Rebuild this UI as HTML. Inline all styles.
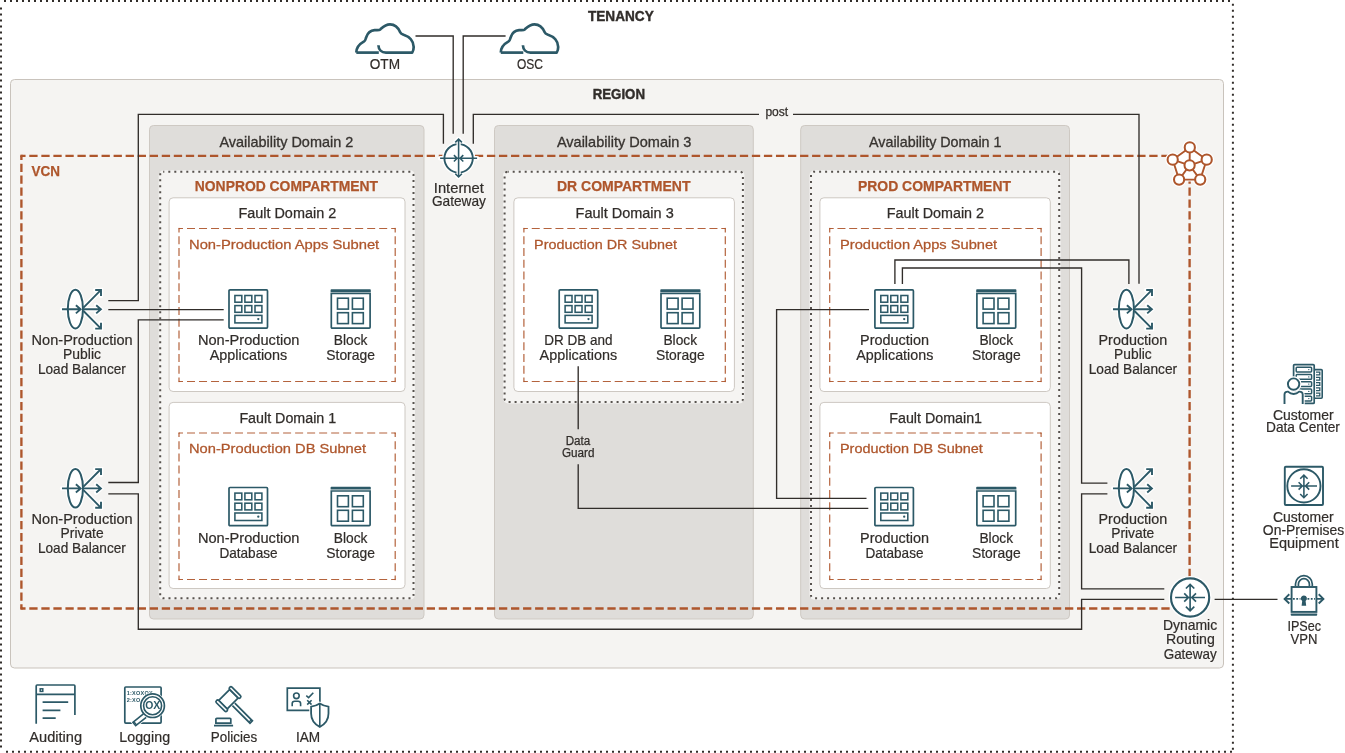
<!DOCTYPE html>
<html><head><meta charset="utf-8"><title>OCI Architecture</title>
<style>
html,body{margin:0;padding:0;background:#fff}
svg{display:block;will-change:transform}
text{font-family:"Liberation Sans",sans-serif;fill:#312d2a;white-space:pre}
.l{font-size:14.3px;stroke:#312d2a;stroke-width:.2px}
.s{font-size:12px;stroke:#312d2a;stroke-width:.25px}
.m{font-size:12.6px}
.h{font-size:14.6px;font-weight:bold;stroke:#ae562c;stroke-width:.25px}
.hb{font-size:14px;font-weight:bold;stroke:#312d2a;stroke-width:.4px}

.ad{font-size:14.6px;stroke:#312d2a;stroke-width:.3px;fill:#3a3632}
.fd{font-size:14px;stroke:#312d2a;stroke-width:.25px}
.o{fill:#ae562c}
.sn{font-size:13.5px;fill:#ae562c;stroke:#ae562c;stroke-width:.28px}
</style></head>
<body>
<svg width="1345" height="753" viewBox="0 0 1345 753">
<path d="M4 1H1232 M1232.9 3.8V750.5 M1 7.4V750.5 M6 751.8H1232" fill="none" stroke="#312d2a" stroke-width="2" stroke-dasharray="2 4"/>
<rect x="10.5" y="79.5" width="1213" height="588.5" rx="4" fill="#f5f4f2" stroke="#c9c3bc" stroke-width="1"/>
<rect x="149.5" y="125.5" width="274.5" height="493.5" rx="4" fill="#dfddda" stroke="#cec9c3" stroke-width="1"/>
<rect x="494.5" y="125.5" width="258.79999999999995" height="493.5" rx="4" fill="#dfddda" stroke="#cec9c3" stroke-width="1"/>
<rect x="800.7" y="125.5" width="268.79999999999995" height="493.5" rx="4" fill="#dfddda" stroke="#cec9c3" stroke-width="1"/>
<rect x="158.7" y="170.2" width="256.3" height="429.59999999999997" rx="5" fill="#f5f4f2"/>
<rect x="160.2" y="171.7" width="253.3" height="426.59999999999997" rx="3" fill="none" stroke="#57524e" stroke-width="2" stroke-dasharray="2 4" stroke-dashoffset="0.9"/>
<rect x="503.1" y="170.2" width="241.29999999999995" height="233.3" rx="5" fill="#f5f4f2"/>
<rect x="504.6" y="171.7" width="238.29999999999995" height="230.3" rx="3" fill="none" stroke="#57524e" stroke-width="2" stroke-dasharray="2 4" stroke-dashoffset="0.9"/>
<rect x="809.5" y="170.2" width="251.20000000000005" height="429.59999999999997" rx="5" fill="#f5f4f2"/>
<rect x="811" y="171.7" width="248.20000000000005" height="426.59999999999997" rx="3" fill="none" stroke="#57524e" stroke-width="2" stroke-dasharray="2 4" stroke-dashoffset="0.9"/>
<rect x="169.1" y="197.8" width="235.9" height="193.7" rx="4" fill="#fff" stroke="#cdc8c2" stroke-width="1"/>
<rect x="169.1" y="402.4" width="235.9" height="186.10000000000002" rx="4" fill="#fff" stroke="#cdc8c2" stroke-width="1"/>
<rect x="513.9" y="197.8" width="220.5" height="193.7" rx="4" fill="#fff" stroke="#cdc8c2" stroke-width="1"/>
<rect x="819.9" y="197.8" width="230.39999999999998" height="193.7" rx="4" fill="#fff" stroke="#cdc8c2" stroke-width="1"/>
<rect x="819.9" y="402.4" width="230.39999999999998" height="186.10000000000002" rx="4" fill="#fff" stroke="#cdc8c2" stroke-width="1"/>
<path d="M179 228.5L395.2 228.5" fill="none" stroke="#ae562c" stroke-width="1.2" stroke-opacity=".92" stroke-dasharray="8 4.011" stroke-dashoffset="4.0" stroke-linecap="butt"/>
<path d="M395.2 228.5L395.2 381.5" fill="none" stroke="#ae562c" stroke-width="1.2" stroke-opacity=".92" stroke-dasharray="8 3.769" stroke-dashoffset="4.0" stroke-linecap="butt"/>
<path d="M179 381.5L395.2 381.5" fill="none" stroke="#ae562c" stroke-width="1.2" stroke-opacity=".92" stroke-dasharray="8 4.011" stroke-dashoffset="4.0" stroke-linecap="butt"/>
<path d="M179 228.5L179 381.5" fill="none" stroke="#ae562c" stroke-width="1.2" stroke-opacity=".92" stroke-dasharray="8 3.769" stroke-dashoffset="4.0" stroke-linecap="butt"/>
<rect x="178.4" y="227.9" width="1.2" height="1.2" fill="#ae562c" fill-opacity=".92"/>
<rect x="394.59999999999997" y="227.9" width="1.2" height="1.2" fill="#ae562c" fill-opacity=".92"/>
<rect x="178.4" y="380.9" width="1.2" height="1.2" fill="#ae562c" fill-opacity=".92"/>
<rect x="394.59999999999997" y="380.9" width="1.2" height="1.2" fill="#ae562c" fill-opacity=".92"/>
<path d="M179 433L395.2 433" fill="none" stroke="#ae562c" stroke-width="1.2" stroke-opacity=".92" stroke-dasharray="8 4.011" stroke-dashoffset="4.0" stroke-linecap="butt"/>
<path d="M395.2 433L395.2 579.5" fill="none" stroke="#ae562c" stroke-width="1.2" stroke-opacity=".92" stroke-dasharray="8 4.208" stroke-dashoffset="4.0" stroke-linecap="butt"/>
<path d="M179 579.5L395.2 579.5" fill="none" stroke="#ae562c" stroke-width="1.2" stroke-opacity=".92" stroke-dasharray="8 4.011" stroke-dashoffset="4.0" stroke-linecap="butt"/>
<path d="M179 433L179 579.5" fill="none" stroke="#ae562c" stroke-width="1.2" stroke-opacity=".92" stroke-dasharray="8 4.208" stroke-dashoffset="4.0" stroke-linecap="butt"/>
<rect x="178.4" y="432.4" width="1.2" height="1.2" fill="#ae562c" fill-opacity=".92"/>
<rect x="394.59999999999997" y="432.4" width="1.2" height="1.2" fill="#ae562c" fill-opacity=".92"/>
<rect x="178.4" y="578.9" width="1.2" height="1.2" fill="#ae562c" fill-opacity=".92"/>
<rect x="394.59999999999997" y="578.9" width="1.2" height="1.2" fill="#ae562c" fill-opacity=".92"/>
<path d="M523.9 228.5L725.3 228.5" fill="none" stroke="#ae562c" stroke-width="1.2" stroke-opacity=".92" stroke-dasharray="8 3.847" stroke-dashoffset="4.0" stroke-linecap="butt"/>
<path d="M725.3 228.5L725.3 381.5" fill="none" stroke="#ae562c" stroke-width="1.2" stroke-opacity=".92" stroke-dasharray="8 3.769" stroke-dashoffset="4.0" stroke-linecap="butt"/>
<path d="M523.9 381.5L725.3 381.5" fill="none" stroke="#ae562c" stroke-width="1.2" stroke-opacity=".92" stroke-dasharray="8 3.847" stroke-dashoffset="4.0" stroke-linecap="butt"/>
<path d="M523.9 228.5L523.9 381.5" fill="none" stroke="#ae562c" stroke-width="1.2" stroke-opacity=".92" stroke-dasharray="8 3.769" stroke-dashoffset="4.0" stroke-linecap="butt"/>
<rect x="523.3" y="227.9" width="1.2" height="1.2" fill="#ae562c" fill-opacity=".92"/>
<rect x="724.6999999999999" y="227.9" width="1.2" height="1.2" fill="#ae562c" fill-opacity=".92"/>
<rect x="523.3" y="380.9" width="1.2" height="1.2" fill="#ae562c" fill-opacity=".92"/>
<rect x="724.6999999999999" y="380.9" width="1.2" height="1.2" fill="#ae562c" fill-opacity=".92"/>
<path d="M829.7 228.5L1041.1 228.5" fill="none" stroke="#ae562c" stroke-width="1.2" stroke-opacity=".92" stroke-dasharray="8 3.744" stroke-dashoffset="4.0" stroke-linecap="butt"/>
<path d="M1041.1 228.5L1041.1 381.5" fill="none" stroke="#ae562c" stroke-width="1.2" stroke-opacity=".92" stroke-dasharray="8 3.769" stroke-dashoffset="4.0" stroke-linecap="butt"/>
<path d="M829.7 381.5L1041.1 381.5" fill="none" stroke="#ae562c" stroke-width="1.2" stroke-opacity=".92" stroke-dasharray="8 3.744" stroke-dashoffset="4.0" stroke-linecap="butt"/>
<path d="M829.7 228.5L829.7 381.5" fill="none" stroke="#ae562c" stroke-width="1.2" stroke-opacity=".92" stroke-dasharray="8 3.769" stroke-dashoffset="4.0" stroke-linecap="butt"/>
<rect x="829.1" y="227.9" width="1.2" height="1.2" fill="#ae562c" fill-opacity=".92"/>
<rect x="1040.5" y="227.9" width="1.2" height="1.2" fill="#ae562c" fill-opacity=".92"/>
<rect x="829.1" y="380.9" width="1.2" height="1.2" fill="#ae562c" fill-opacity=".92"/>
<rect x="1040.5" y="380.9" width="1.2" height="1.2" fill="#ae562c" fill-opacity=".92"/>
<path d="M829.7 433L1041.1 433" fill="none" stroke="#ae562c" stroke-width="1.2" stroke-opacity=".92" stroke-dasharray="8 3.744" stroke-dashoffset="4.0" stroke-linecap="butt"/>
<path d="M1041.1 433L1041.1 579.5" fill="none" stroke="#ae562c" stroke-width="1.2" stroke-opacity=".92" stroke-dasharray="8 4.208" stroke-dashoffset="4.0" stroke-linecap="butt"/>
<path d="M829.7 579.5L1041.1 579.5" fill="none" stroke="#ae562c" stroke-width="1.2" stroke-opacity=".92" stroke-dasharray="8 3.744" stroke-dashoffset="4.0" stroke-linecap="butt"/>
<path d="M829.7 433L829.7 579.5" fill="none" stroke="#ae562c" stroke-width="1.2" stroke-opacity=".92" stroke-dasharray="8 4.208" stroke-dashoffset="4.0" stroke-linecap="butt"/>
<rect x="829.1" y="432.4" width="1.2" height="1.2" fill="#ae562c" fill-opacity=".92"/>
<rect x="1040.5" y="432.4" width="1.2" height="1.2" fill="#ae562c" fill-opacity=".92"/>
<rect x="829.1" y="578.9" width="1.2" height="1.2" fill="#ae562c" fill-opacity=".92"/>
<rect x="1040.5" y="578.9" width="1.2" height="1.2" fill="#ae562c" fill-opacity=".92"/>
<g id="under">
</g>
<path d="M21.4 155.9L1189.6 155.9" fill="none" stroke="#ae562c" stroke-width="2.35" stroke-dasharray="8.3 3.743" stroke-dashoffset="4.15" stroke-linecap="butt"/>
<path d="M1189.6 155.9L1189.6 608.5" fill="none" stroke="#ae562c" stroke-width="2.35" stroke-dasharray="8.3 3.611" stroke-dashoffset="4.15" stroke-linecap="butt"/>
<path d="M21.4 608.5L1189.6 608.5" fill="none" stroke="#ae562c" stroke-width="2.35" stroke-dasharray="8.3 3.743" stroke-dashoffset="4.15" stroke-linecap="butt"/>
<path d="M21.4 155.9L21.4 608.5" fill="none" stroke="#ae562c" stroke-width="2.35" stroke-dasharray="8.3 3.611" stroke-dashoffset="4.15" stroke-linecap="butt"/>
<rect x="20.224999999999998" y="154.725" width="2.35" height="2.35" fill="#ae562c" />
<rect x="1188.425" y="154.725" width="2.35" height="2.35" fill="#ae562c" />
<rect x="20.224999999999998" y="607.325" width="2.35" height="2.35" fill="#ae562c" />
<rect x="1188.425" y="607.325" width="2.35" height="2.35" fill="#ae562c" />
<path d="M415.5 36H453.2V133.7 M505.6 36H463.2V133.7 M443.4 143.8V114.3H138.3V300.6H108.3 M473.3 143.8V114.3H759 M793 114.3H1139V283.8 M108.3 309.6H223.7 M223.7 319.8H138.3V482.5H108.3 M108.3 493.8H138.3V629.2H1081.6V599.4H1164.3 M1164.3 588.9H1081.6V493.8H1107.4 M1107.4 483.1H1081.6V268H902.4V284 M1128.9 284V260H894.9V284 M869 309.6H776.6V498.3H866.5 M578.2 366.2V429.3 M578.2 464.2V508.4H868.3 M1214.6 599.4H1277.5" fill="none" stroke="#312d2a" stroke-width="1.35"/>
<g transform="translate(0 0)" fill="none" stroke="#2c5967" stroke-width="2.7" stroke-linejoin="round"><path d="M356.3 52.6C356.3 46.5 360.3 43.5 364.1 41.4C365.6 40.5 365.6 38.8 366.2 37.2C367.6 33.2 370.3 30.6 374.6 30.2C377.3 30 378.9 30.6 380.3 29.4C382.6 27.3 385.4 24.3 390 24.3C395 24.3 398.4 28 400.2 32.2C401 34 402.3 34.2 403.6 34.7C409.5 36.6 413.7 41.3 413.7 47C413.7 49.2 413.2 51 412.2 52.6H386C381.5 52.6 378.6 49.6 378.4 45.3"/><path d="M356.3 52.6H378.8"/></g>
<g transform="translate(144.5 0)" fill="none" stroke="#2c5967" stroke-width="2.7" stroke-linejoin="round"><path d="M356.3 52.6C356.3 46.5 360.3 43.5 364.1 41.4C365.6 40.5 365.6 38.8 366.2 37.2C367.6 33.2 370.3 30.6 374.6 30.2C377.3 30 378.9 30.6 380.3 29.4C382.6 27.3 385.4 24.3 390 24.3C395 24.3 398.4 28 400.2 32.2C401 34 402.3 34.2 403.6 34.7C409.5 36.6 413.7 41.3 413.7 47C413.7 49.2 413.2 51 412.2 52.6H386C381.5 52.6 378.6 49.6 378.4 45.3"/><path d="M356.3 52.6H378.8"/></g>
<g fill="none"><circle cx="458.6" cy="158.3" r="14.2" fill="#fff" stroke="#fff" stroke-width="4.6"/><path d="M458.6 139.1V177 M455.3 142.4L458.6 139.1L461.90000000000003 142.4 M455.3 173.7L458.6 177L461.90000000000003 173.7 M440.1 158.3H477.1 M453.90000000000003 155.10000000000002L457.1 158.3L453.90000000000003 161.5 M463.3 155.10000000000002L460.1 158.3L463.3 161.5" stroke="#fff" stroke-width="4.6" stroke-linecap="round" stroke-linejoin="round"/><circle cx="458.6" cy="158.3" r="14.2" stroke="#2c5967" stroke-width="1.9"/><path d="M458.6 141V175.6" stroke="#fff" stroke-width="4.2"/><path d="M458.6 139.1V177 M455.3 142.4L458.6 139.1L461.90000000000003 142.4 M455.3 173.7L458.6 177L461.90000000000003 173.7 M440.1 158.3H477.1 M453.90000000000003 155.10000000000002L457.1 158.3L453.90000000000003 161.5 M463.3 155.10000000000002L460.1 158.3L463.3 161.5" stroke="#2c5967" stroke-width="1.55"/></g>
<g fill="none"><circle cx="1190.1" cy="597.5" r="19.1" fill="#fff" stroke="#fff" stroke-width="4.8"/><circle cx="1190.1" cy="597.5" r="19.1" stroke="#2c5967" stroke-width="2.1"/><path d="M1190.1 584.3V610.9 M1185.8999999999999 588.5L1190.1 584.3L1194.3 588.5 M1185.8999999999999 606.6999999999999L1190.1 610.9L1194.3 606.6999999999999 M1175.1 597.5H1205 M1184.1999999999998 593.3L1188.3999999999999 597.5L1184.1999999999998 601.7 M1196.0 593.3L1191.8 597.5L1196.0 601.7" stroke="#2c5967" stroke-width="1.65"/></g>
<g fill="none"><polygon points="1189.8,147.4 1206.7,159.7 1200.2,179.6 1179.1,179.6 1172.7,159.7" fill="#fff" stroke="#fff" stroke-width="4.0"/><circle cx="1189.8" cy="147.4" r="5.1" fill="#fff" stroke="#fff" stroke-width="4.6"/><circle cx="1172.7" cy="159.7" r="5.1" fill="#fff" stroke="#fff" stroke-width="4.6"/><circle cx="1206.7" cy="159.7" r="5.1" fill="#fff" stroke="#fff" stroke-width="4.6"/><circle cx="1189.6" cy="165.3" r="5.1" fill="#fff" stroke="#fff" stroke-width="4.6"/><circle cx="1179.1" cy="179.6" r="5.1" fill="#fff" stroke="#fff" stroke-width="4.6"/><circle cx="1200.2" cy="179.6" r="5.1" fill="#fff" stroke="#fff" stroke-width="4.6"/><path d="M1189.8 147.4L1172.7 159.7 M1189.8 147.4L1206.7 159.7 M1172.7 159.7L1179.1 179.6 M1206.7 159.7L1200.2 179.6 M1179.1 179.6L1200.2 179.6 M1189.6 165.3L1189.8 147.4 M1189.6 165.3L1172.7 159.7 M1189.6 165.3L1206.7 159.7 M1189.6 165.3L1179.1 179.6 M1189.6 165.3L1200.2 179.6" stroke="#ae562c" stroke-width="1.9"/><circle cx="1189.8" cy="147.4" r="5.1" fill="#fff" stroke="#ae562c" stroke-width="2.05"/><circle cx="1172.7" cy="159.7" r="5.1" fill="#fff" stroke="#ae562c" stroke-width="2.05"/><circle cx="1206.7" cy="159.7" r="5.1" fill="#fff" stroke="#ae562c" stroke-width="2.05"/><circle cx="1189.6" cy="165.3" r="5.1" fill="#fff" stroke="#ae562c" stroke-width="2.05"/><circle cx="1179.1" cy="179.6" r="5.1" fill="#fff" stroke="#ae562c" stroke-width="2.05"/><circle cx="1200.2" cy="179.6" r="5.1" fill="#fff" stroke="#ae562c" stroke-width="2.05"/></g>
<g transform="translate(0 0)" fill="none" stroke-linecap="butt" stroke-linejoin="miter"><ellipse cx="75.4" cy="309.1" rx="7.6" ry="19.3" fill="#fff" stroke="#fff" stroke-width="4.4"/><path d="M62 309.3H80.3 M75.9 305.2L80.6 309.3L75.9 313.4" stroke="#fff" stroke-width="4.4" stroke-linecap="round"/><path d="M83.3 309.3H100.6 M96.2 305.2L100.9 309.3L96.2 313.4" stroke="#fff" stroke-width="4.4" stroke-linecap="round"/><path d="M83.5 307.6L100.5 290.4 M95.2 290H101V295.9" stroke="#fff" stroke-width="4.4" stroke-linecap="round"/><path d="M83.5 311L100.5 328.2 M95.2 328.6H101V322.7" stroke="#fff" stroke-width="4.4" stroke-linecap="round"/><ellipse cx="75.4" cy="309.1" rx="7.6" ry="19.3" fill="#fff" stroke="#2c5967" stroke-width="2.0"/><path d="M62 309.3H80.3 M75.9 305.2L80.6 309.3L75.9 313.4" stroke="#2c5967" stroke-width="1.9"/><path d="M83.3 309.3H100.6 M96.2 305.2L100.9 309.3L96.2 313.4" stroke="#2c5967" stroke-width="1.9"/><path d="M83.5 307.6L100.5 290.4 M95.2 290H101V295.9" stroke="#2c5967" stroke-width="1.9"/><path d="M83.5 311L100.5 328.2 M95.2 328.6H101V322.7" stroke="#2c5967" stroke-width="1.9"/></g>
<g transform="translate(0 179.1)" fill="none" stroke-linecap="butt" stroke-linejoin="miter"><ellipse cx="75.4" cy="309.1" rx="7.6" ry="19.3" fill="#fff" stroke="#fff" stroke-width="4.4"/><path d="M62 309.3H80.3 M75.9 305.2L80.6 309.3L75.9 313.4" stroke="#fff" stroke-width="4.4" stroke-linecap="round"/><path d="M83.3 309.3H100.6 M96.2 305.2L100.9 309.3L96.2 313.4" stroke="#fff" stroke-width="4.4" stroke-linecap="round"/><path d="M83.5 307.6L100.5 290.4 M95.2 290H101V295.9" stroke="#fff" stroke-width="4.4" stroke-linecap="round"/><path d="M83.5 311L100.5 328.2 M95.2 328.6H101V322.7" stroke="#fff" stroke-width="4.4" stroke-linecap="round"/><ellipse cx="75.4" cy="309.1" rx="7.6" ry="19.3" fill="#fff" stroke="#2c5967" stroke-width="2.0"/><path d="M62 309.3H80.3 M75.9 305.2L80.6 309.3L75.9 313.4" stroke="#2c5967" stroke-width="1.9"/><path d="M83.3 309.3H100.6 M96.2 305.2L100.9 309.3L96.2 313.4" stroke="#2c5967" stroke-width="1.9"/><path d="M83.5 307.6L100.5 290.4 M95.2 290H101V295.9" stroke="#2c5967" stroke-width="1.9"/><path d="M83.5 311L100.5 328.2 M95.2 328.6H101V322.7" stroke="#2c5967" stroke-width="1.9"/></g>
<g transform="translate(1051 0)" fill="none" stroke-linecap="butt" stroke-linejoin="miter"><ellipse cx="75.4" cy="309.1" rx="7.6" ry="19.3" fill="#fff" stroke="#fff" stroke-width="4.4"/><path d="M62 309.3H80.3 M75.9 305.2L80.6 309.3L75.9 313.4" stroke="#fff" stroke-width="4.4" stroke-linecap="round"/><path d="M83.3 309.3H100.6 M96.2 305.2L100.9 309.3L96.2 313.4" stroke="#fff" stroke-width="4.4" stroke-linecap="round"/><path d="M83.5 307.6L100.5 290.4 M95.2 290H101V295.9" stroke="#fff" stroke-width="4.4" stroke-linecap="round"/><path d="M83.5 311L100.5 328.2 M95.2 328.6H101V322.7" stroke="#fff" stroke-width="4.4" stroke-linecap="round"/><ellipse cx="75.4" cy="309.1" rx="7.6" ry="19.3" fill="#fff" stroke="#2c5967" stroke-width="2.0"/><path d="M62 309.3H80.3 M75.9 305.2L80.6 309.3L75.9 313.4" stroke="#2c5967" stroke-width="1.9"/><path d="M83.3 309.3H100.6 M96.2 305.2L100.9 309.3L96.2 313.4" stroke="#2c5967" stroke-width="1.9"/><path d="M83.5 307.6L100.5 290.4 M95.2 290H101V295.9" stroke="#2c5967" stroke-width="1.9"/><path d="M83.5 311L100.5 328.2 M95.2 328.6H101V322.7" stroke="#2c5967" stroke-width="1.9"/></g>
<g transform="translate(1051 179.1)" fill="none" stroke-linecap="butt" stroke-linejoin="miter"><ellipse cx="75.4" cy="309.1" rx="7.6" ry="19.3" fill="#fff" stroke="#fff" stroke-width="4.4"/><path d="M62 309.3H80.3 M75.9 305.2L80.6 309.3L75.9 313.4" stroke="#fff" stroke-width="4.4" stroke-linecap="round"/><path d="M83.3 309.3H100.6 M96.2 305.2L100.9 309.3L96.2 313.4" stroke="#fff" stroke-width="4.4" stroke-linecap="round"/><path d="M83.5 307.6L100.5 290.4 M95.2 290H101V295.9" stroke="#fff" stroke-width="4.4" stroke-linecap="round"/><path d="M83.5 311L100.5 328.2 M95.2 328.6H101V322.7" stroke="#fff" stroke-width="4.4" stroke-linecap="round"/><ellipse cx="75.4" cy="309.1" rx="7.6" ry="19.3" fill="#fff" stroke="#2c5967" stroke-width="2.0"/><path d="M62 309.3H80.3 M75.9 305.2L80.6 309.3L75.9 313.4" stroke="#2c5967" stroke-width="1.9"/><path d="M83.3 309.3H100.6 M96.2 305.2L100.9 309.3L96.2 313.4" stroke="#2c5967" stroke-width="1.9"/><path d="M83.5 307.6L100.5 290.4 M95.2 290H101V295.9" stroke="#2c5967" stroke-width="1.9"/><path d="M83.5 311L100.5 328.2 M95.2 328.6H101V322.7" stroke="#2c5967" stroke-width="1.9"/></g>
<g transform="translate(228.3 289.2)" fill="none" stroke="#2c5967"><rect x="0.7" y="0.7" width="38.5" height="38.2" rx="1" stroke-width="1.7" fill="#fff"/><rect x="6.6" y="6.3" width="6.9" height="6.7" stroke-width="1.55"/><rect x="16.6" y="6.3" width="6.9" height="6.7" stroke-width="1.55"/><rect x="26.7" y="6.3" width="6.9" height="6.7" stroke-width="1.55"/><rect x="6.6" y="16.4" width="6.9" height="6.7" stroke-width="1.55"/><rect x="16.6" y="16.4" width="6.9" height="6.7" stroke-width="1.55"/><rect x="26.7" y="16.4" width="6.9" height="6.7" stroke-width="1.55"/><rect x="6.6" y="26.2" width="27" height="7.5" stroke-width="1.55"/><circle cx="30" cy="29.9" r="1.15" fill="#2c5967" stroke="none"/></g>
<g transform="translate(558.5 289.2)" fill="none" stroke="#2c5967"><rect x="0.7" y="0.7" width="38.5" height="38.2" rx="1" stroke-width="1.7" fill="#fff"/><rect x="6.6" y="6.3" width="6.9" height="6.7" stroke-width="1.55"/><rect x="16.6" y="6.3" width="6.9" height="6.7" stroke-width="1.55"/><rect x="26.7" y="6.3" width="6.9" height="6.7" stroke-width="1.55"/><rect x="6.6" y="16.4" width="6.9" height="6.7" stroke-width="1.55"/><rect x="16.6" y="16.4" width="6.9" height="6.7" stroke-width="1.55"/><rect x="26.7" y="16.4" width="6.9" height="6.7" stroke-width="1.55"/><rect x="6.6" y="26.2" width="27" height="7.5" stroke-width="1.55"/><circle cx="30" cy="29.9" r="1.15" fill="#2c5967" stroke="none"/></g>
<g transform="translate(874.2 289.2)" fill="none" stroke="#2c5967"><rect x="0.7" y="0.7" width="38.5" height="38.2" rx="1" stroke-width="1.7" fill="#fff"/><rect x="6.6" y="6.3" width="6.9" height="6.7" stroke-width="1.55"/><rect x="16.6" y="6.3" width="6.9" height="6.7" stroke-width="1.55"/><rect x="26.7" y="6.3" width="6.9" height="6.7" stroke-width="1.55"/><rect x="6.6" y="16.4" width="6.9" height="6.7" stroke-width="1.55"/><rect x="16.6" y="16.4" width="6.9" height="6.7" stroke-width="1.55"/><rect x="26.7" y="16.4" width="6.9" height="6.7" stroke-width="1.55"/><rect x="6.6" y="26.2" width="27" height="7.5" stroke-width="1.55"/><circle cx="30" cy="29.9" r="1.15" fill="#2c5967" stroke="none"/></g>
<g transform="translate(228.3 486.8)" fill="none" stroke="#2c5967"><rect x="0.7" y="0.7" width="38.5" height="38.2" rx="1" stroke-width="1.7" fill="#fff"/><rect x="6.6" y="6.3" width="6.9" height="6.7" stroke-width="1.55"/><rect x="16.6" y="6.3" width="6.9" height="6.7" stroke-width="1.55"/><rect x="26.7" y="6.3" width="6.9" height="6.7" stroke-width="1.55"/><rect x="6.6" y="16.4" width="6.9" height="6.7" stroke-width="1.55"/><rect x="16.6" y="16.4" width="6.9" height="6.7" stroke-width="1.55"/><rect x="26.7" y="16.4" width="6.9" height="6.7" stroke-width="1.55"/><rect x="6.6" y="26.2" width="27" height="7.5" stroke-width="1.55"/><circle cx="30" cy="29.9" r="1.15" fill="#2c5967" stroke="none"/></g>
<g transform="translate(874.2 486.8)" fill="none" stroke="#2c5967"><rect x="0.7" y="0.7" width="38.5" height="38.2" rx="1" stroke-width="1.7" fill="#fff"/><rect x="6.6" y="6.3" width="6.9" height="6.7" stroke-width="1.55"/><rect x="16.6" y="6.3" width="6.9" height="6.7" stroke-width="1.55"/><rect x="26.7" y="6.3" width="6.9" height="6.7" stroke-width="1.55"/><rect x="6.6" y="16.4" width="6.9" height="6.7" stroke-width="1.55"/><rect x="16.6" y="16.4" width="6.9" height="6.7" stroke-width="1.55"/><rect x="26.7" y="16.4" width="6.9" height="6.7" stroke-width="1.55"/><rect x="6.6" y="26.2" width="27" height="7.5" stroke-width="1.55"/><circle cx="30" cy="29.9" r="1.15" fill="#2c5967" stroke="none"/></g>
<g transform="translate(330.6 289.2)" fill="none" stroke="#2c5967"><path d="M0.8 0H39.4A.8 .8 0 0 1 40.2 .8V2.7H0V.8A.8 .8 0 0 1 .8 0Z" fill="#2c5967" stroke="none"/><path d="M0.7 4.2H39.5V38A.9 .9 0 0 1 38.6 38.9H1.6A.9 .9 0 0 1 .7 38Z" stroke-width="1.7" fill="#fff"/><rect x="6.9" y="9.0" width="10.9" height="10.9" stroke-width="1.6"/><rect x="21.8" y="9.0" width="10.9" height="10.9" stroke-width="1.6"/><rect x="6.9" y="23.5" width="10.9" height="10.9" stroke-width="1.6"/><rect x="21.8" y="23.5" width="10.9" height="10.9" stroke-width="1.6"/></g>
<g transform="translate(660.3 289.2)" fill="none" stroke="#2c5967"><path d="M0.8 0H39.4A.8 .8 0 0 1 40.2 .8V2.7H0V.8A.8 .8 0 0 1 .8 0Z" fill="#2c5967" stroke="none"/><path d="M0.7 4.2H39.5V38A.9 .9 0 0 1 38.6 38.9H1.6A.9 .9 0 0 1 .7 38Z" stroke-width="1.7" fill="#fff"/><rect x="6.9" y="9.0" width="10.9" height="10.9" stroke-width="1.6"/><rect x="21.8" y="9.0" width="10.9" height="10.9" stroke-width="1.6"/><rect x="6.9" y="23.5" width="10.9" height="10.9" stroke-width="1.6"/><rect x="21.8" y="23.5" width="10.9" height="10.9" stroke-width="1.6"/></g>
<g transform="translate(976.2 289.2)" fill="none" stroke="#2c5967"><path d="M0.8 0H39.4A.8 .8 0 0 1 40.2 .8V2.7H0V.8A.8 .8 0 0 1 .8 0Z" fill="#2c5967" stroke="none"/><path d="M0.7 4.2H39.5V38A.9 .9 0 0 1 38.6 38.9H1.6A.9 .9 0 0 1 .7 38Z" stroke-width="1.7" fill="#fff"/><rect x="6.9" y="9.0" width="10.9" height="10.9" stroke-width="1.6"/><rect x="21.8" y="9.0" width="10.9" height="10.9" stroke-width="1.6"/><rect x="6.9" y="23.5" width="10.9" height="10.9" stroke-width="1.6"/><rect x="21.8" y="23.5" width="10.9" height="10.9" stroke-width="1.6"/></g>
<g transform="translate(330.6 486.8)" fill="none" stroke="#2c5967"><path d="M0.8 0H39.4A.8 .8 0 0 1 40.2 .8V2.7H0V.8A.8 .8 0 0 1 .8 0Z" fill="#2c5967" stroke="none"/><path d="M0.7 4.2H39.5V38A.9 .9 0 0 1 38.6 38.9H1.6A.9 .9 0 0 1 .7 38Z" stroke-width="1.7" fill="#fff"/><rect x="6.9" y="9.0" width="10.9" height="10.9" stroke-width="1.6"/><rect x="21.8" y="9.0" width="10.9" height="10.9" stroke-width="1.6"/><rect x="6.9" y="23.5" width="10.9" height="10.9" stroke-width="1.6"/><rect x="21.8" y="23.5" width="10.9" height="10.9" stroke-width="1.6"/></g>
<g transform="translate(976.2 486.8)" fill="none" stroke="#2c5967"><path d="M0.8 0H39.4A.8 .8 0 0 1 40.2 .8V2.7H0V.8A.8 .8 0 0 1 .8 0Z" fill="#2c5967" stroke="none"/><path d="M0.7 4.2H39.5V38A.9 .9 0 0 1 38.6 38.9H1.6A.9 .9 0 0 1 .7 38Z" stroke-width="1.7" fill="#fff"/><rect x="6.9" y="9.0" width="10.9" height="10.9" stroke-width="1.6"/><rect x="21.8" y="9.0" width="10.9" height="10.9" stroke-width="1.6"/><rect x="6.9" y="23.5" width="10.9" height="10.9" stroke-width="1.6"/><rect x="21.8" y="23.5" width="10.9" height="10.9" stroke-width="1.6"/></g>
<g fill="none" stroke="#2c5967"><rect x="1284.8" y="466.8" width="38.2" height="38.2" rx="1" stroke-width="1.9" fill="#fff"/><circle cx="1303.9" cy="485.9" r="16.6" stroke-width="1.9"/><path d="M1303.9 475.1V497.7 M1300.2 478.8L1303.9 475.1L1307.6000000000001 478.8 M1300.2 494.0L1303.9 497.7L1307.6000000000001 494.0 M1291.1 485.9H1317 M1298.6000000000001 482.2L1302.3000000000002 485.9L1298.6000000000001 489.59999999999997 M1309.2 482.2L1305.5 485.9L1309.2 489.59999999999997" stroke-width="1.55"/></g>
<g fill="none" stroke="#2c5967"><rect x="1313.6" y="369.6" width="8.6" height="28.6" rx="1" stroke-width="1.6" fill="#fff"/><path d="M1316 372.2H1319.8V374.9H1316" stroke-width="1.3"/><path d="M1316 377.4H1319.8V380.1H1316" stroke-width="1.3"/><path d="M1316 382.7H1319.8V385.4H1316" stroke-width="1.3"/><path d="M1316 387.9H1319.8V390.6H1316" stroke-width="1.3"/><path d="M1316 393.2H1319.8V395.9H1316" stroke-width="1.3"/><rect x="1293.6" y="364.6" width="20.6" height="38.8" rx="1" stroke-width="1.7" fill="#fff"/><rect x="1296.2" y="367.3" width="15.4" height="4.6" rx=".8" stroke-width="1.5"/><circle cx="1308.8" cy="369.6" r=".7" fill="#2c5967" stroke="none"/><rect x="1296.2" y="374.6" width="15.4" height="4.6" rx=".8" stroke-width="1.5"/><circle cx="1308.8" cy="376.9" r=".7" fill="#2c5967" stroke="none"/><rect x="1296.2" y="381.8" width="15.4" height="4.6" rx=".8" stroke-width="1.5"/><circle cx="1308.8" cy="384.1" r=".7" fill="#2c5967" stroke="none"/><rect x="1296.2" y="389.1" width="15.4" height="4.6" rx=".8" stroke-width="1.5"/><circle cx="1308.8" cy="391.4" r=".7" fill="#2c5967" stroke="none"/><rect x="1296.2" y="396.3" width="15.4" height="4.6" rx=".8" stroke-width="1.5"/><circle cx="1308.8" cy="398.6" r=".7" fill="#2c5967" stroke="none"/><path d="M1284.5 404V394.6C1284.5 392.4 1285.9 391.5 1288 391.6C1289.6 393.1 1291.4 394 1293.6 394C1295.8 394 1297.6 393.1 1299.2 391.6C1301.3 391.5 1302.7 392.4 1302.7 394.6V404Z" fill="#fff" stroke="#fff" stroke-width="4.0"/><circle cx="1293.6" cy="384.1" r="5.7" fill="#fff" stroke="#fff" stroke-width="4.4"/><path d="M1284.5 404V394.6C1284.5 392.4 1285.9 391.5 1288 391.6C1289.6 393.1 1291.4 394 1293.6 394C1295.8 394 1297.6 393.1 1299.2 391.6C1301.3 391.5 1302.7 392.4 1302.7 394.6V404" stroke-width="1.9"/><circle cx="1293.6" cy="384.1" r="5.7" stroke-width="1.9" fill="#fff"/></g>
<g fill="none" stroke="#2c5967"><path d="M1295.5 586V584A8.4 8.4 0 0 1 1312.3 584V586" stroke-width="1.7"/><path d="M1298.4 586V584.2A5.5 5.5 0 0 1 1309.4 584.2V586" stroke-width="1.7"/><rect x="1291.6" y="587" width="24.8" height="24.9" stroke-width="1.9" fill="#fff"/><path d="M1290.7 613.6H1317.2V614.8A.9 .9 0 0 1 1316.3 615.7H1291.6A.9 .9 0 0 1 1290.7 614.8Z" fill="#2c5967" stroke="none"/><path d="M1284.6 598.9H1292 M1316 598.9H1323.4" stroke-width="1.9"/><path d="M1289.3 594.3L1284.6 598.9L1289.3 603.5 M1318.7 594.3L1323.4 598.9L1318.7 603.5" stroke-width="1.9"/><path d="M1293 598.9H1300.5 M1307.5 598.9H1315" stroke-width="1.7" stroke-dasharray="1.8 1.5"/><path d="M1303.9 595.4A3 3 0 0 1 1305.6 600.9L1306.2 605.7H1301.6L1302.2 600.9A3 3 0 0 1 1303.9 595.4Z" fill="#2c5967" stroke="none"/></g>
<g fill="none" stroke="#2c5967" stroke-width="1.7"><path d="M36.2 723.8V685.9A.9 .9 0 0 1 37.1 685H74A.9 .9 0 0 1 74.9 685.9V715"/><path d="M36.2 694.3H74.9"/><rect x="40.2" y="688.8" width="2.6" height="2.6" stroke-width="1.5"/><path d="M42.6 702.1H68.2 M42.6 710.3H60.4 M42.6 718.2H55.7"/></g>
<g fill="none" stroke="#2c5967"><rect x="124.8" y="687" width="36.3" height="36.1" rx="1" stroke-width="1.7"/><text x="126.7" y="694.6" style="font-size:5.5px;font-weight:bold;fill:#2c5967;stroke:none;letter-spacing:.25px">1:XOXOX</text><text x="126.7" y="702.4" style="font-size:5.5px;font-weight:bold;fill:#2c5967;stroke:none;letter-spacing:.25px">2:XO</text><path d="M143.2 714.1L133.2 722.4L135.6 725.6L145.9 717.2" stroke="#fff" stroke-width="3.6"/><circle cx="152.6" cy="705.7" r="11.8" fill="#fff" stroke="#fff" stroke-width="3.0"/><path d="M143.4 713.9L132.9 722.3L135.7 725.7L146.2 717.4" stroke-width="1.6" fill="#fff"/><path d="M133.9 721.6L136.6 724.9" stroke-width="1.3"/><circle cx="152.6" cy="705.7" r="11.8" stroke-width="1.7" fill="#fff"/><circle cx="152.6" cy="705.7" r="9" stroke-width="1.6"/><text x="152.7" y="709.4" text-anchor="middle" style="font-size:10.4px;font-weight:bold;fill:#2c5967;stroke:none">OX</text></g>
<g fill="none" stroke="#2c5967" stroke-width="1.7"><g transform="rotate(-45 228.4 699.2)"><rect x="220.6" y="693.2" width="15.6" height="12" fill="#fff"/><rect x="217.4" y="691.8" width="3.2" height="14.8" rx="1.4" fill="#fff"/><rect x="236.2" y="691.8" width="3.2" height="14.8" rx="1.4" fill="#fff"/></g><g transform="rotate(45 233.6 704.4)"><path d="M233.6 702.7H258.5V706.1H233.6" /><path d="M257 702.7V706.1" stroke-width="1.3"/></g><path d="M215.9 723.2V719.3A.9 .9 0 0 1 216.8 718.4H229.9A.9 .9 0 0 1 230.8 719.3V723.2Z"/><path d="M214 725.6H233.1" stroke-width="1.8"/></g>
<g fill="none" stroke="#2c5967" stroke-width="1.7"><path d="M311 710.3H287.3V688.2H319.9V703"/><circle cx="296.4" cy="695.8" r="2.8" stroke-width="1.6"/><path d="M292.2 706.3V703.6A2.4 2.4 0 0 1 294.6 701.2H298.2A2.4 2.4 0 0 1 300.6 703.6V706.3" stroke-width="1.6"/><path d="M306.3 695.7L308.6 697.6L313.3 692.8" stroke-width="1.6"/><path d="M307.2 700.2L311.6 704.6 M311.6 700.2L307.2 704.6" stroke-width="1.6"/><path d="M319.8 703.6C316.8 705.6 314 706.4 311.1 706.7V713.5C311.1 719.8 314.6 724.2 319.8 726.9C325 724.2 328.5 719.8 328.5 713.5V706.7C325.6 706.4 322.8 705.6 319.8 703.6Z" fill="#fff" stroke="#fff" stroke-width="3.6"/><path d="M319.8 703.6C316.8 705.6 314 706.4 311.1 706.7V713.5C311.1 719.8 314.6 724.2 319.8 726.9C325 724.2 328.5 719.8 328.5 713.5V706.7C325.6 706.4 322.8 705.6 319.8 703.6Z" fill="#fff" stroke-width="1.8"/><path d="M319.8 704V726.5" stroke-width="1.6"/></g>
<text x="588.0" y="20.5" class="hb" textLength="65.7" lengthAdjust="spacingAndGlyphs">TENANCY</text>
<text x="592.7" y="99.4" class="hb" textLength="52.3" lengthAdjust="spacingAndGlyphs">REGION</text>
<text x="219.4" y="146.6" class="ad" textLength="133.9" lengthAdjust="spacingAndGlyphs">Availability Domain 2</text>
<text x="556.9" y="146.6" class="ad" textLength="134.5" lengthAdjust="spacingAndGlyphs">Availability Domain 3</text>
<text x="869.0" y="146.6" class="ad" textLength="132.5" lengthAdjust="spacingAndGlyphs">Availability Domain 1</text>
<text x="31.6" y="176.4" class="h o" textLength="28.4" lengthAdjust="spacingAndGlyphs">VCN</text>
<text x="194.8" y="191.2" class="h o" textLength="183.2" lengthAdjust="spacingAndGlyphs">NONPROD COMPARTMENT</text>
<text x="556.9" y="191.2" class="h o" textLength="133.6" lengthAdjust="spacingAndGlyphs">DR COMPARTMENT</text>
<text x="858.0" y="191.2" class="h o" textLength="153.0" lengthAdjust="spacingAndGlyphs">PROD COMPARTMENT</text>
<text x="238.4" y="217.8" class="fd" textLength="97.8" lengthAdjust="spacingAndGlyphs">Fault Domain 2</text>
<text x="575.6" y="217.8" class="fd" textLength="98.1" lengthAdjust="spacingAndGlyphs">Fault Domain 3</text>
<text x="886.8" y="217.8" class="fd" textLength="97.2" lengthAdjust="spacingAndGlyphs">Fault Domain 2</text>
<text x="239.4" y="422.5" class="fd" textLength="96.8" lengthAdjust="spacingAndGlyphs">Fault Domain 1</text>
<text x="889.3" y="422.5" class="fd" textLength="92.7" lengthAdjust="spacingAndGlyphs">Fault Domain1</text>
<text x="189.0" y="248.6" class="sn" textLength="190.2" lengthAdjust="spacingAndGlyphs">Non-Production Apps Subnet</text>
<text x="534.1" y="248.6" class="sn" textLength="142.9" lengthAdjust="spacingAndGlyphs">Production DR Subnet</text>
<text x="840.0" y="248.6" class="sn" textLength="157.2" lengthAdjust="spacingAndGlyphs">Production Apps Subnet</text>
<text x="189.0" y="453.3" class="sn" textLength="177.0" lengthAdjust="spacingAndGlyphs">Non-Production DB Subnet</text>
<text x="840.0" y="453.3" class="sn" textLength="142.8" lengthAdjust="spacingAndGlyphs">Production DB Subnet</text>
<text x="197.9" y="344.7" class="l" textLength="101.6" lengthAdjust="spacingAndGlyphs">Non-Production</text>
<text x="209.7" y="359.9" class="l" textLength="77.6" lengthAdjust="spacingAndGlyphs">Applications</text>
<text x="333.8" y="344.7" class="l" textLength="33.7" lengthAdjust="spacingAndGlyphs">Block</text>
<text x="326.3" y="359.9" class="l" textLength="48.6" lengthAdjust="spacingAndGlyphs">Storage</text>
<text x="333.8" y="542.8" class="l" textLength="33.7" lengthAdjust="spacingAndGlyphs">Block</text>
<text x="326.3" y="557.8" class="l" textLength="48.6" lengthAdjust="spacingAndGlyphs">Storage</text>
<text x="663.4" y="344.7" class="l" textLength="33.7" lengthAdjust="spacingAndGlyphs">Block</text>
<text x="656.0" y="359.9" class="l" textLength="48.6" lengthAdjust="spacingAndGlyphs">Storage</text>
<text x="979.4" y="344.7" class="l" textLength="33.7" lengthAdjust="spacingAndGlyphs">Block</text>
<text x="972.0" y="359.9" class="l" textLength="48.6" lengthAdjust="spacingAndGlyphs">Storage</text>
<text x="979.4" y="542.8" class="l" textLength="33.7" lengthAdjust="spacingAndGlyphs">Block</text>
<text x="972.0" y="557.8" class="l" textLength="48.6" lengthAdjust="spacingAndGlyphs">Storage</text>
<text x="544.2" y="344.7" class="l" textLength="68.3" lengthAdjust="spacingAndGlyphs">DR DB and</text>
<text x="539.6" y="359.9" class="l" textLength="77.6" lengthAdjust="spacingAndGlyphs">Applications</text>
<text x="860.0" y="344.7" class="l" textLength="69.0" lengthAdjust="spacingAndGlyphs">Production</text>
<text x="856.2" y="359.9" class="l" textLength="77.1" lengthAdjust="spacingAndGlyphs">Applications</text>
<text x="197.9" y="542.8" class="l" textLength="101.6" lengthAdjust="spacingAndGlyphs">Non-Production</text>
<text x="219.4" y="557.8" class="l" textLength="58.2" lengthAdjust="spacingAndGlyphs">Database</text>
<text x="860.0" y="542.8" class="l" textLength="69.0" lengthAdjust="spacingAndGlyphs">Production</text>
<text x="865.4" y="557.8" class="l" textLength="58.1" lengthAdjust="spacingAndGlyphs">Database</text>
<text x="31.6" y="344.7" class="l" textLength="101.1" lengthAdjust="spacingAndGlyphs">Non-Production</text>
<text x="63.1" y="359.2" class="l" textLength="37.9" lengthAdjust="spacingAndGlyphs">Public</text>
<text x="37.9" y="373.8" class="l" textLength="88.0" lengthAdjust="spacingAndGlyphs">Load Balancer</text>
<text x="31.6" y="524.0" class="l" textLength="101.1" lengthAdjust="spacingAndGlyphs">Non-Production</text>
<text x="60.6" y="538.4" class="l" textLength="43.0" lengthAdjust="spacingAndGlyphs">Private</text>
<text x="37.9" y="553.2" class="l" textLength="88.0" lengthAdjust="spacingAndGlyphs">Load Balancer</text>
<text x="1098.5" y="344.7" class="l" textLength="68.8" lengthAdjust="spacingAndGlyphs">Production</text>
<text x="1114.1" y="359.2" class="l" textLength="37.6" lengthAdjust="spacingAndGlyphs">Public</text>
<text x="1088.7" y="373.8" class="l" textLength="88.5" lengthAdjust="spacingAndGlyphs">Load Balancer</text>
<text x="1098.5" y="524.0" class="l" textLength="68.8" lengthAdjust="spacingAndGlyphs">Production</text>
<text x="1111.2" y="538.4" class="l" textLength="43.0" lengthAdjust="spacingAndGlyphs">Private</text>
<text x="1088.7" y="553.2" class="l" textLength="88.5" lengthAdjust="spacingAndGlyphs">Load Balancer</text>
<text x="433.8" y="193.1" class="l" textLength="50.0" lengthAdjust="spacingAndGlyphs">Internet</text>
<text x="431.9" y="205.6" class="l" textLength="54.0" lengthAdjust="spacingAndGlyphs">Gateway</text>
<text x="565.7" y="445.2" class="s" textLength="24.6" lengthAdjust="spacingAndGlyphs">Data</text>
<text x="562.0" y="456.6" class="s" textLength="32.5" lengthAdjust="spacingAndGlyphs">Guard</text>
<text x="1162.9" y="629.5" class="l" textLength="54.3" lengthAdjust="spacingAndGlyphs">Dynamic</text>
<text x="1166.0" y="644.2" class="l" textLength="48.8" lengthAdjust="spacingAndGlyphs">Routing</text>
<text x="1163.7" y="658.8" class="l" textLength="53.0" lengthAdjust="spacingAndGlyphs">Gateway</text>
<text x="1287.4" y="631.2" class="l" textLength="33.6" lengthAdjust="spacingAndGlyphs">IPSec</text>
<text x="1290.6" y="644.4" class="l" textLength="27.0" lengthAdjust="spacingAndGlyphs">VPN</text>
<text x="1273.0" y="419.7" class="l" textLength="60.6" lengthAdjust="spacingAndGlyphs">Customer</text>
<text x="1266.0" y="431.9" class="l" textLength="73.9" lengthAdjust="spacingAndGlyphs">Data Center</text>
<text x="1273.0" y="522.0" class="l" textLength="60.6" lengthAdjust="spacingAndGlyphs">Customer</text>
<text x="1262.8" y="534.8" class="l" textLength="81.4" lengthAdjust="spacingAndGlyphs">On-Premises</text>
<text x="1269.2" y="548.0" class="l" textLength="69.5" lengthAdjust="spacingAndGlyphs">Equipment</text>
<text x="765.4" y="116.1" class="s" textLength="22.8" lengthAdjust="spacingAndGlyphs">post</text>
<text x="369.7" y="69.3" class="l" textLength="30.3" lengthAdjust="spacingAndGlyphs">OTM</text>
<text x="517.0" y="69.3" class="l" textLength="26.0" lengthAdjust="spacingAndGlyphs">OSC</text>
<text x="29.3" y="741.5" class="l" textLength="52.8" lengthAdjust="spacingAndGlyphs">Auditing</text>
<text x="119.3" y="741.5" class="l" textLength="50.8" lengthAdjust="spacingAndGlyphs">Logging</text>
<text x="210.8" y="741.5" class="l" textLength="46.3" lengthAdjust="spacingAndGlyphs">Policies</text>
<text x="295.9" y="741.5" class="l" textLength="24.2" lengthAdjust="spacingAndGlyphs">IAM</text>
</svg>
</body></html>
